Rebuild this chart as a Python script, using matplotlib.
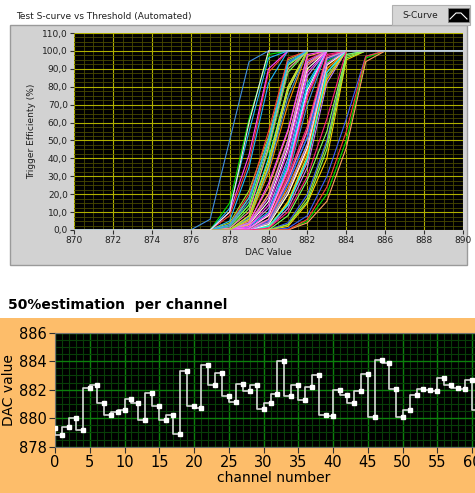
import numpy as np
import matplotlib
matplotlib.use("Agg")
import matplotlib.pyplot as plt
from matplotlib.patches import Rectangle
from matplotlib.lines import Line2D
from matplotlib.ticker import MultipleLocator, FuncFormatter

# --- top graph: S-curves, efficiency (%) read at DAC 876..886 -------------
dac = np.arange(870, 891)
s_curves = [
    [0, 0, 8, 38, 88, 100, 100, 100, 100, 100, 100],
    [0, 0, 15, 62, 98, 100, 100, 100, 100, 100, 100],
    [0, 0, 5, 35, 82, 100, 100, 100, 100, 100, 100],
    [0, 0, 2, 18, 50, 92, 100, 100, 100, 100, 100],
    [0, 0, 10, 42, 90, 100, 100, 100, 100, 100, 100],
    [0, 0, 0, 0, 3, 22, 45, 90, 100, 100, 100],
    [0, 0, 0, 0, 1, 15, 40, 85, 100, 100, 100],
    [0, 0, 0, 4, 20, 48, 92, 100, 100, 100, 100],
    [0, 0, 1, 12, 45, 88, 100, 100, 100, 100, 100],
    [0, 0, 0, 8, 40, 80, 100, 100, 100, 100, 100],
    [0, 0, 0, 6, 35, 78, 100, 100, 100, 100, 100],
    [0, 0, 0, 2, 12, 40, 86, 100, 100, 100, 100],
    [0, 0, 0, 3, 18, 50, 95, 100, 100, 100, 100],
    [0, 0, 4, 22, 52, 95, 100, 100, 100, 100, 100],
    [0, 0, 0, 1, 6, 30, 70, 100, 100, 100, 100],
    [0, 0, 0, 5, 24, 55, 97, 100, 100, 100, 100],
    [0, 0, 3, 20, 55, 96, 100, 100, 100, 100, 100],
    [0, 0, 2, 14, 44, 90, 100, 100, 100, 100, 100],
    [0, 0, 12, 55, 96, 100, 100, 100, 100, 100, 100],
    [0, 0, 0, 0, 0, 2, 15, 40, 95, 100, 100],
    [0, 0, 0, 4, 26, 56, 98, 100, 100, 100, 100],
    [0, 0, 0, 6, 32, 70, 100, 100, 100, 100, 100],
    [0, 0, 0, 0, 0, 1, 8, 30, 62, 97, 100],
    [0, 0, 0, 0, 2, 14, 38, 88, 100, 100, 100],
    [0, 0, 0, 0, 0, 3, 16, 45, 96, 100, 100],
    [0, 0, 0, 1, 9, 36, 80, 100, 100, 100, 100],
    [0, 0, 0, 3, 16, 46, 90, 100, 100, 100, 100],
    [0, 0, 0, 0, 1, 12, 35, 82, 100, 100, 100],
    [0, 0, 0, 0, 5, 28, 55, 97, 100, 100, 100],
    [0, 0, 0, 0, 2, 15, 40, 86, 100, 100, 100],
    [0, 0, 0, 7, 34, 74, 100, 100, 100, 100, 100],
    [0, 0, 0, 3, 20, 50, 93, 100, 100, 100, 100],
    [0, 0, 0, 1, 8, 32, 74, 100, 100, 100, 100],
    [0, 0, 0, 0, 0, 0, 5, 20, 50, 96, 100],
    [0, 0, 0, 2, 10, 38, 82, 100, 100, 100, 100],
    [0, 0, 0, 0, 1, 16, 42, 84, 100, 100, 100],
    [0, 0, 0, 2, 14, 44, 88, 100, 100, 100, 100],
    [0, 0, 0, 0, 3, 20, 44, 90, 100, 100, 100],
    [0, 0, 0, 0, 0, 4, 20, 50, 98, 100, 100],
    [0, 0, 1, 10, 46, 90, 100, 100, 100, 100, 100],
    [0, 0, 2, 14, 48, 92, 100, 100, 100, 100, 100],
    [0, 0, 0, 0, 4, 26, 52, 96, 100, 100, 100],
    [0, 0, 0, 1, 8, 34, 78, 100, 100, 100, 100],
    [0, 0, 0, 4, 18, 50, 94, 100, 100, 100, 100],
    [0, 0, 0, 0, 6, 30, 58, 98, 100, 100, 100],
    [0, 0, 0, 0, 0, 3, 18, 48, 97, 100, 100],
    [0, 0, 2, 16, 50, 94, 100, 100, 100, 100, 100],
    [0, 0, 0, 0, 0, 0, 4, 16, 46, 94, 100],
    [0, 0, 0, 0, 0, 0, 6, 24, 55, 97, 100],
    [0, 0, 0, 0, 3, 22, 48, 94, 100, 100, 100],
    [0, 0, 3, 18, 50, 93, 100, 100, 100, 100, 100],
    [0, 0, 0, 8, 38, 80, 100, 100, 100, 100, 100],
    [0, 0, 0, 1, 9, 34, 76, 100, 100, 100, 100],
    [0, 0, 0, 0, 4, 24, 48, 92, 100, 100, 100],
    [0, 0, 0, 0, 5, 26, 52, 95, 100, 100, 100],
    [0, 0, 0, 0, 6, 28, 56, 96, 100, 100, 100],
    [0, 0, 0, 0, 0, 8, 28, 55, 98, 100, 100],
    [0, 0, 0, 0, 2, 14, 40, 88, 100, 100, 100],
    [0, 0, 0, 0, 3, 20, 46, 92, 100, 100, 100],
    [0, 0, 0, 0, 4, 22, 48, 93, 100, 100, 100],
    [0, 0, 0, 0, 1, 10, 30, 62, 100, 100, 100],
    [0, 0, 0, 6, 36, 78, 100, 100, 100, 100, 100],
    [0, 6, 50, 94, 100, 100, 100, 100, 100, 100, 100],
    [0, 0, 10, 60, 100, 100, 100, 100, 100, 100, 100],
]
curve_colors = ['#ff3a3a', '#00e000', '#20b8ff', '#ffd000', '#ff40ff',
                '#ff8c00', '#3c5cff', '#ff80b0', '#80ff60', '#00ffff',
                '#ffffff', '#c080ff', '#ff2080', '#a0e030', '#4090e0',
                '#ffa060']

# --- bottom graph: 50% point per channel ---------------------------------
channels = np.arange(62)
half_point = [879.3, 878.8, 879.4, 880.0, 879.2, 882.15, 882.3, 881.05,
              880.25, 880.45, 880.6, 881.35, 881.05, 879.9, 881.8, 880.85,
              879.9, 880.2, 878.9, 883.3, 880.85, 880.7, 883.75, 882.3,
              883.2, 881.55, 881.15, 882.4, 881.9, 882.3, 880.65, 881.05,
              881.7, 884.0, 881.55, 882.3, 881.25, 882.2, 883.05, 880.25,
              880.15, 881.95, 881.6, 881.05, 881.9, 883.1, 880.05, 884.1,
              883.9, 882.05, 880.05, 880.55, 881.6, 882.05, 881.95, 881.9,
              882.85, 882.3, 882.1, 882.05, 882.7, 880.6]

W, H = 475, 493


def fx(px):
    return px / W


def fy(py):
    return 1 - py / H


fig = plt.figure(figsize=(W / 100, H / 100), dpi=100)
fig.patch.set_facecolor('white')

# panels (behind the axes)
fig.patches.append(Rectangle((fx(10), fy(265)), fx(457), 240 / H,
                             transform=fig.transFigure, fc='#d2d2d2',
                             ec='#9a9a9a', lw=1, zorder=-2))
fig.patches.append(Rectangle((fx(392), fy(25)), fx(78), 20 / H,
                             transform=fig.transFigure, fc='#d6d6d6',
                             ec='#b0b0b0', lw=0.8, zorder=-2))
fig.patches.append(Rectangle((fx(448), fy(22)), fx(21), 14 / H,
                             transform=fig.transFigure, fc='black',
                             ec='#808080', lw=0.6, zorder=-1))
fig.add_artist(Line2D([fx(450), fx(456), fx(461), fx(467)],
                      [fy(19), fy(13), fy(13), fy(19)],
                      transform=fig.transFigure, color='white', lw=0.8))
fig.patches.append(Rectangle((0, 0), 1, fy(318),
                             transform=fig.transFigure, fc='#fdbd6a',
                             ec='none', zorder=-2))

fig.text(fx(16), fy(16), 'Test S-curve vs Threshold (Automated)',
         fontsize=6.5, va='center', ha='left', color='#202020')
fig.text(fx(420), fy(15), 'S-Curve', fontsize=6.5, va='center',
         ha='center', color='#202020')

# top axes
ax = fig.add_axes([fx(74), fy(230), fx(389), 197 / H])
ax.set_facecolor('black')
for i, row in enumerate(s_curves):
    eff = np.concatenate([np.zeros(6), row, np.full(4, 100.0)])
    col = '#e8e8e8' if i == len(s_curves) - 1 else curve_colors[i % len(curve_colors)]
    ax.plot(dac, eff, color=col, lw=0.8, zorder=3)
ax.set_xlim(870, 890)
ax.set_ylim(0, 110)
ax.xaxis.set_major_locator(MultipleLocator(2))
ax.xaxis.set_minor_locator(MultipleLocator(0.5))
ax.yaxis.set_major_locator(MultipleLocator(10))
ax.yaxis.set_minor_locator(MultipleLocator(2.5))
ax.grid(which='major', color='#b0b000', lw=0.8, zorder=1)
ax.grid(which='minor', color='#4a4a00', lw=0.6, zorder=0)
ax.set_axisbelow(True)
ax.yaxis.set_major_formatter(FuncFormatter(lambda v, p: f'{v:.1f}'.replace('.', ',')))
ax.tick_params(which='major', labelsize=6.5, length=3, color='#303030',
               labelcolor='#202020', pad=1.5)
ax.tick_params(which='minor', length=0)
for s in ax.spines.values():
    s.set_visible(False)
ax.set_xlabel('DAC Value', fontsize=6.5, color='#202020', labelpad=2)
ax.set_ylabel('Trigger Efficienty (%)', fontsize=6.5, color='#202020',
              labelpad=4)

# bottom title
fig.text(fx(8), fy(305), '50%estimation  per channel', fontsize=10,
         fontweight='bold', va='center', ha='left')

# bottom axes (runs past the right edge of the picture, as in the original)
ax2 = fig.add_axes([fx(55), fy(446.7), fx(438), 114 / H])
ax2.set_facecolor('black')
ax2.plot(channels, half_point, drawstyle='steps-pre', color='#d8d8d8',
         lw=1.2, zorder=3)
ax2.plot(channels, half_point, 's', ms=3, color='white', zorder=4)
ax2.set_xlim(0, 63)
ax2.set_ylim(878, 886)
ax2.xaxis.set_major_locator(MultipleLocator(5))
ax2.xaxis.set_minor_locator(MultipleLocator(1))
ax2.yaxis.set_major_locator(MultipleLocator(2))
ax2.yaxis.set_minor_locator(MultipleLocator(0.5))
ax2.grid(which='major', color='#0c800c', lw=1.0, zorder=1)
ax2.grid(which='minor', color='#083e08', lw=0.8, zorder=0)
ax2.set_axisbelow(True)
ax2.tick_params(which='major', labelsize=10.5, length=4, color='#303030',
                pad=2)
ax2.tick_params(which='minor', length=0)
for s in ax2.spines.values():
    s.set_color('#707070')
ax2.set_xlabel('channel number', fontsize=10, labelpad=1)
ax2.set_ylabel('DAC value', fontsize=10, labelpad=2)

fig.savefig('out.png', dpi=100)
